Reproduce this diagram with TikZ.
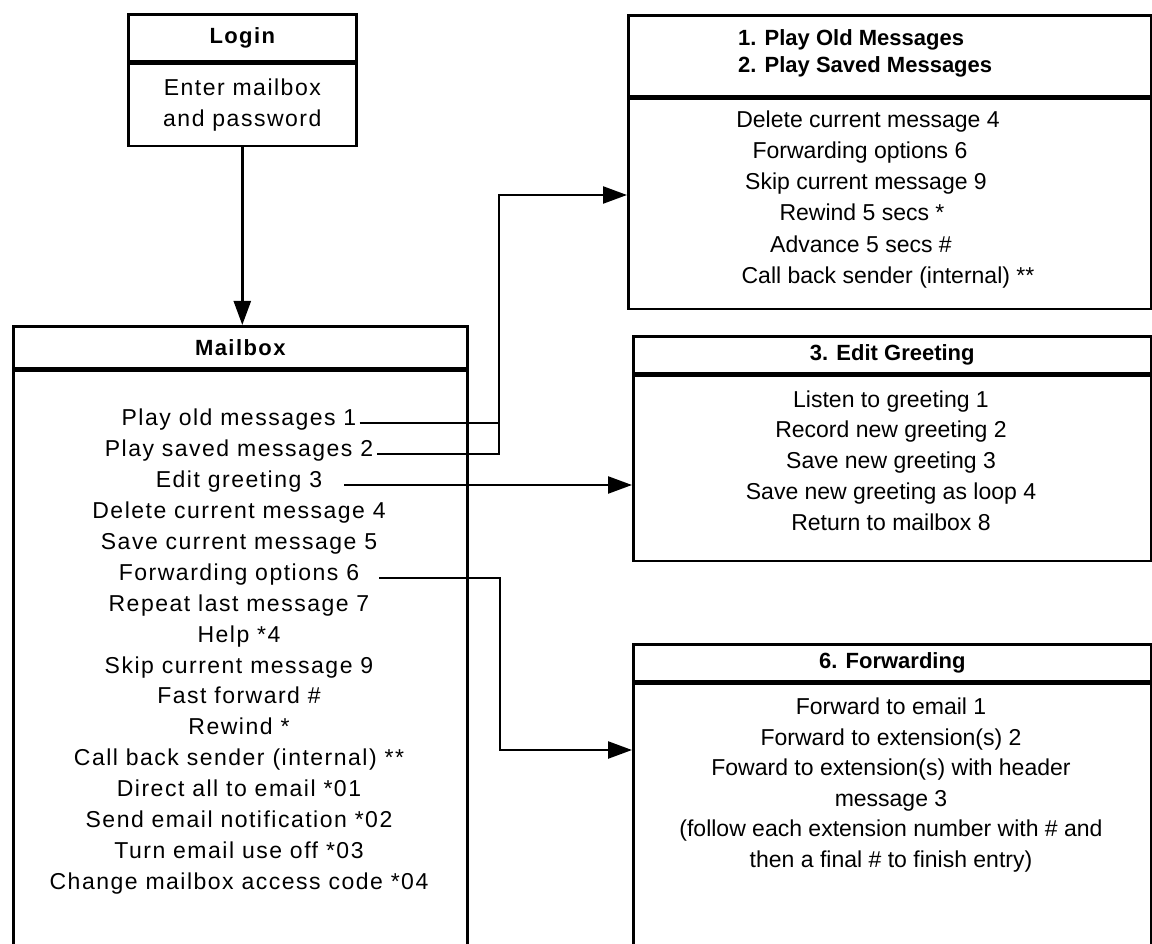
\documentclass[tikz,border=0pt]{standalone}
\usepackage{fontspec}
\setmainfont{Liberation Sans}[LetterSpace=6.5]
\newfontfamily\plainsans{Liberation Sans}
\usetikzlibrary{positioning}
\usetikzlibrary{arrows.meta}

\tikzset{
  frame/.style={draw, line width=2.6pt, inner sep=0pt, anchor=north west},
  link/.style={draw, line width=2.4pt},
  >={Triangle[length=24pt,width=17pt]},
  title/.style={font=\fontsize{22}{27}\selectfont\bfseries},
  righttitle/.style={font=\plainsans\fontsize{22}{27}\selectfont\bfseries},
  item/.style={inner sep=0pt, anchor=mid, font=\fontsize{23}{31}\selectfont},
  rightitem/.style={inner sep=0pt, anchor=mid, font=\plainsans\fontsize{23}{31}\selectfont},
}

\begin{document}
\begin{tikzpicture}[x=1pt, y=-1pt]
\useasboundingbox (0,0) rectangle (1152,944);
\clip (0,0) rectangle (1152,944);

% login box
\node[frame, title, minimum width=228pt, minimum height=47pt] (loginhead) at (127,13) {Login};
\node[frame, minimum width=228pt, minimum height=82pt, below=0pt of loginhead, align=center,
  font=\fontsize{23}{31}\selectfont] (loginbody) {Enter mailbox\\and password};

% mailbox
\node[frame, title, minimum width=454pt, minimum height=42pt] (mailhead) at (12,325) {Mailbox};
\node[frame, minimum width=454pt, minimum height=640pt, below=0pt of mailhead] (mailbody) {};

\node[item] (opt1) at (239,423) {Play old messages 1};
\node[item] (opt2) at (239,454) {Play saved messages 2};
\node[item] (opt3) at (239,485) {Edit greeting 3};
\node[item] (opt4) at (239,516) {Delete current message 4};
\node[item] (opt5) at (239,547) {Save current message 5};
\node[item] (opt6) at (239,578) {Forwarding options 6};
\node[item] (opt7) at (239,609) {Repeat last message 7};
\node[item] (opthelp) at (239,640) {Help *4};
\node[item] (opt9) at (239,671) {Skip current message 9};
\node[item] (optff) at (239,701) {Fast forward \#};
\node[item] (optrw) at (239,732) {Rewind *};
\node[item] (optcall) at (239,763) {Call back sender (internal) **};
\node[item] (opt01) at (239,794) {Direct all to email *01};
\node[item] (opt02) at (239,825) {Send email notification *02};
\node[item] (opt03) at (239,856) {Turn email use off *03};
\node[item] (opt04) at (239,887) {Change mailbox access code *04};

% play old / saved messages
\node[frame, minimum width=523pt, minimum height=81pt] (oldhead) at (627,14) {};
\node[frame, minimum width=523pt, minimum height=210pt, below=0pt of oldhead] (oldbody) {};
\node[righttitle, inner sep=0pt, anchor=mid west] (oldtitle) at (738,43) {1. Play Old Messages};
\node[righttitle, inner sep=0pt, anchor=mid west] (savedtitle) at (738,70) {2. Play Saved Messages};
\node[rightitem] (old4) at (868,125) {Delete current message 4};
\node[rightitem] (old6) at (860,156) {Forwarding options 6};
\node[rightitem] (old9) at (866,187) {Skip current message 9};
\node[rightitem] (oldrw) at (862,218) {Rewind 5 secs *};
\node[rightitem] (oldadv) at (861,250) {Advance 5 secs \#};
\node[rightitem] (oldcall) at (888,281) {Call back sender (internal) **};

% edit greeting
\node[frame, righttitle, minimum width=518pt, minimum height=37pt] (greethead) at (632,335) {3. Edit Greeting};
\node[frame, minimum width=518pt, minimum height=185pt, below=0pt of greethead] (greetbody) {};
\node[rightitem] (greet1) at (891,405) {Listen to greeting 1};
\node[rightitem] (greet2) at (891,435) {Record new greeting 2};
\node[rightitem] (greet3) at (891,466) {Save new greeting 3};
\node[rightitem] (greet4) at (891,497) {Save new greeting as loop 4};
\node[rightitem] (greet8) at (891,528) {Return to mailbox 8};

% forwarding
\node[frame, righttitle, minimum width=518pt, minimum height=37pt] (fwdhead) at (632,643) {6. Forwarding};
\node[frame, minimum width=518pt, minimum height=400pt, below=0pt of fwdhead] (fwdbody) {};
\node[rightitem] (fwd1) at (891,712) {Forward to email 1};
\node[rightitem] (fwd2) at (891,743) {Forward to extension(s) 2};
\node[rightitem] (fwd3) at (891,773) {Foward to extension(s) with header};
\node[rightitem] (fwd3b) at (891,804) {message 3};
\node[rightitem] (fwdnote) at (891,834) {(follow each extension number with \# and};
\node[rightitem] (fwdnoteb) at (891,865) {then a final \# to finish entry)};

\coordinate (split) at (499,195);
\coordinate (fwdturn) at (500,750);

\draw[link,->] (loginbody.south) -- (loginbody.south |- mailhead.north);
\draw[link] ([xshift=3pt]opt1.mid east) -- (opt1.mid east -| split);
\draw[link,->] ([xshift=4pt]opt2.mid east) -| (split) -- (split -| oldbody.west);
\draw[link,->] ([xshift=22pt]opt3.mid east) -- (opt3.mid east -| greetbody.west);
\draw[link,->] ([xshift=20pt]opt6.mid east) -| (fwdturn) -- (fwdturn -| fwdbody.west);
\end{tikzpicture}
\end{document}
